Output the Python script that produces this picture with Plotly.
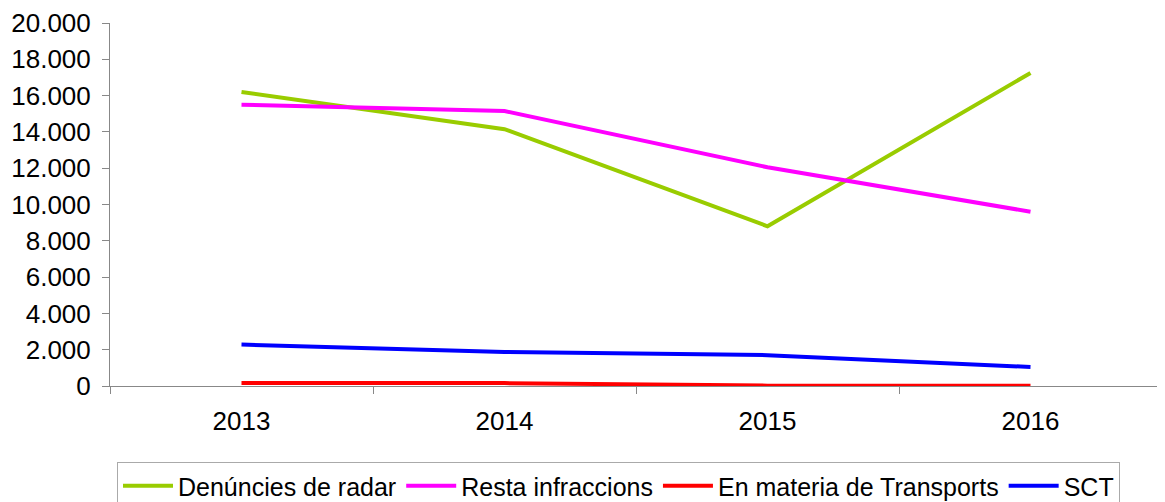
import plotly.graph_objects as go

years = ["2013", "2014", "2015", "2016"]
radar = [16200, 14150, 8800, 17250]
resta = [15500, 15150, 12050, 9600]
transports = [170, 160, 20, 20]
sct = [2280, 1870, 1700, 1050]

series = [
    ("Denúncies de radar", radar, "#99cc00"),
    ("Resta infraccions", resta, "#ff00ff"),
    ("En materia de Transports", transports, "#ff0000"),
    ("SCT", sct, "#0000ff"),
]

# the page body has an 8px margin, so the figure is sized/placed to compensate
W, H = 1157, 494

fig = go.Figure()
for name, values, color in series:
    fig.add_trace(
        go.Scatter(x=years, y=values, name=name, mode="lines", line={"color": color, "width": 4})
    )

fig.update_xaxes(
    type="category",
    range=[-0.5, 3.5],
    showline=True,
    linecolor="#888888",
    linewidth=1,
    ticks="outside",
    tickson="boundaries",
    ticklen=7,
    tickcolor="#888888",
    showgrid=False,
    ticklabelstandoff=12,
    tickfont={"size": 26, "color": "black"},
)
fig.update_yaxes(
    range=[0, 20000],
    dtick=2000,
    tickformat=",d",
    showline=True,
    linecolor="#888888",
    linewidth=1,
    ticks="outside",
    ticklen=7,
    tickcolor="#888888",
    showgrid=False,
    zeroline=False,
    ticklabelstandoff=6,
    tickfont={"size": 26, "color": "black"},
)

fig.update_layout(
    width=W,
    height=H,
    margin={"l": 102, "r": 3, "t": 15, "b": 116, "autoexpand": False},
    separators=",.",
    plot_bgcolor="white",
    paper_bgcolor="white",
    font={"family": "Liberation Sans, Arial, sans-serif", "size": 25, "color": "black"},
    legend={
        "orientation": "h",
        "xref": "container",
        "yref": "container",
        "x": 109 / W,
        "y": 1 - 454 / H,
        "xanchor": "left",
        "yanchor": "top",
        "bordercolor": "#aaaaaa",
        "borderwidth": 1,
        "font": {"size": 25},
        "itemwidth": 50,
        "tracegroupgap": 0,
    },
)

fig.write_html("out.html")
